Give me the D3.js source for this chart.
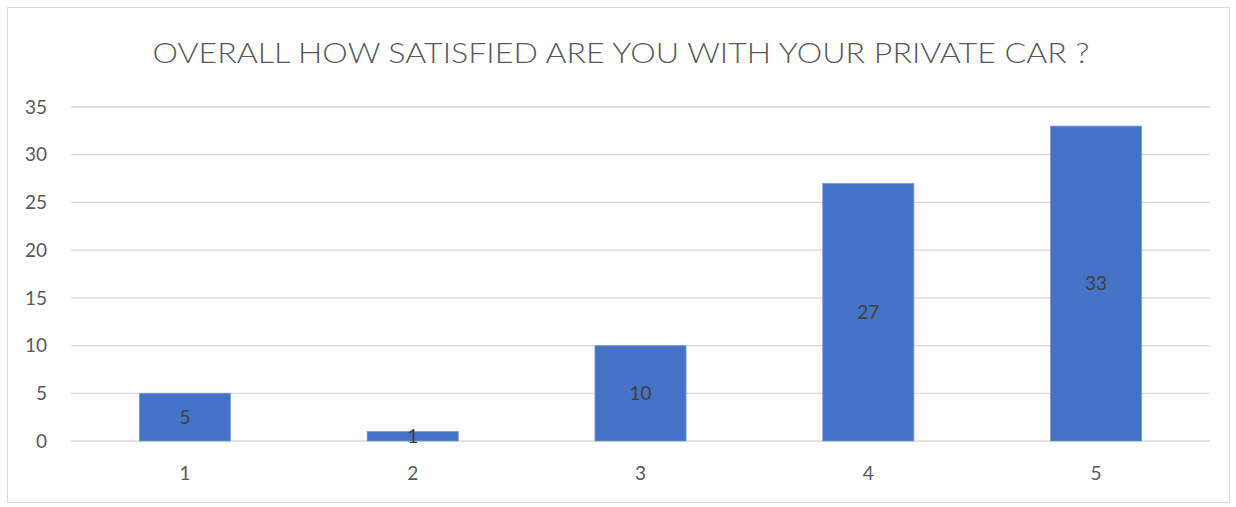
<!DOCTYPE html>
<html>
<head>
<meta charset="utf-8">
<script src="https://cdn.jsdelivr.net/npm/d3@7.8.5/dist/d3.min.js"></script>
<style>
    body { margin: 0; background: #fff; }
    svg { display: block; font-family: Lato, "Open Sans", sans-serif; }
    .grid line { stroke: #d9d9d9; stroke-width: 1.3px; }
    .tick-label { fill: #595959; font-size: 19px; }
</style>
</head>
<body>
<svg id="chart" width="1236" height="507"></svg>
<script>
    // данные
    const title = 'OVERALL HOW SATISFIED ARE YOU WITH YOUR PRIVATE CAR ?';
    const categories = ['1', '2', '3', '4', '5'];
    const values = [5, 1, 10, 27, 33];
    const yTicks = [0, 5, 10, 15, 20, 25, 30, 35];

    const plot = { left: 71, right: 1210, top: 107, bottom: 441 };

    const svg = d3.select('#chart');

    // рамка
    svg.append('rect')
        .attr('x', 7.5).attr('y', 7.5)
        .attr('width', 1222).attr('height', 495)
        .attr('fill', '#fff')
        .attr('stroke', '#d9d9d9')
        .attr('stroke-width', 1);

    const x = d3.scaleBand()
        .domain(categories)
        .range([plot.left, plot.right])
        .paddingInner(0.6)
        .paddingOuter(0.3);

    const y = d3.scaleLinear()
        .domain([0, 35])
        .range([plot.bottom, plot.top]);

    // сетка
    const grid = svg.append('g').attr('class', 'grid');
    grid.selectAll('line')
        .data(yTicks)
        .join('line')
        .attr('x1', plot.left).attr('x2', plot.right)
        .attr('y1', d => y(d)).attr('y2', d => y(d));

    // подписи оси Y
    svg.append('g').selectAll('text')
        .data(yTicks)
        .join('text')
        .attr('class', 'tick-label')
        .attr('x', 47)
        .attr('y', d => y(d))
        .attr('dy', '0.35em')
        .attr('text-anchor', 'end')
        .text(d => d);

    // столбики
    svg.append('g').selectAll('rect')
        .data(values)
        .join('rect')
        .attr('x', (d, i) => x(categories[i]))
        .attr('y', d => y(d))
        .attr('width', x.bandwidth())
        .attr('height', d => y(0) - y(d))
        .attr('fill', '#4472c4')
        .attr('stroke', '#7a9bd6')
        .attr('stroke-width', 0.8);

    // значения внутри столбиков
    svg.append('g').selectAll('text')
        .data(values)
        .join('text')
        .attr('x', (d, i) => x(categories[i]) + x.bandwidth() / 2)
        .attr('y', d => (y(d) + y(0)) / 2)
        .attr('dy', '0.35em')
        .attr('text-anchor', 'middle')
        .attr('fill', '#404040')
        .style('font-size', '19px')
        .text(d => d);

    // подписи категорий
    svg.append('g').selectAll('text')
        .data(categories)
        .join('text')
        .attr('class', 'tick-label')
        .attr('x', d => x(d) + x.bandwidth() / 2)
        .attr('y', 480)
        .attr('text-anchor', 'middle')
        .text(d => d);

    // заголовок
    svg.append('text')
        .attr('x', 621)
        .attr('y', 63)
        .attr('text-anchor', 'middle')
        .attr('fill', '#595959')
        .style('font-size', '28px')
        .style('font-weight', 300)
        .attr('textLength', 937)
        .attr('lengthAdjust', 'spacingAndGlyphs')
        .text(title);
</script>
</body>
</html>
